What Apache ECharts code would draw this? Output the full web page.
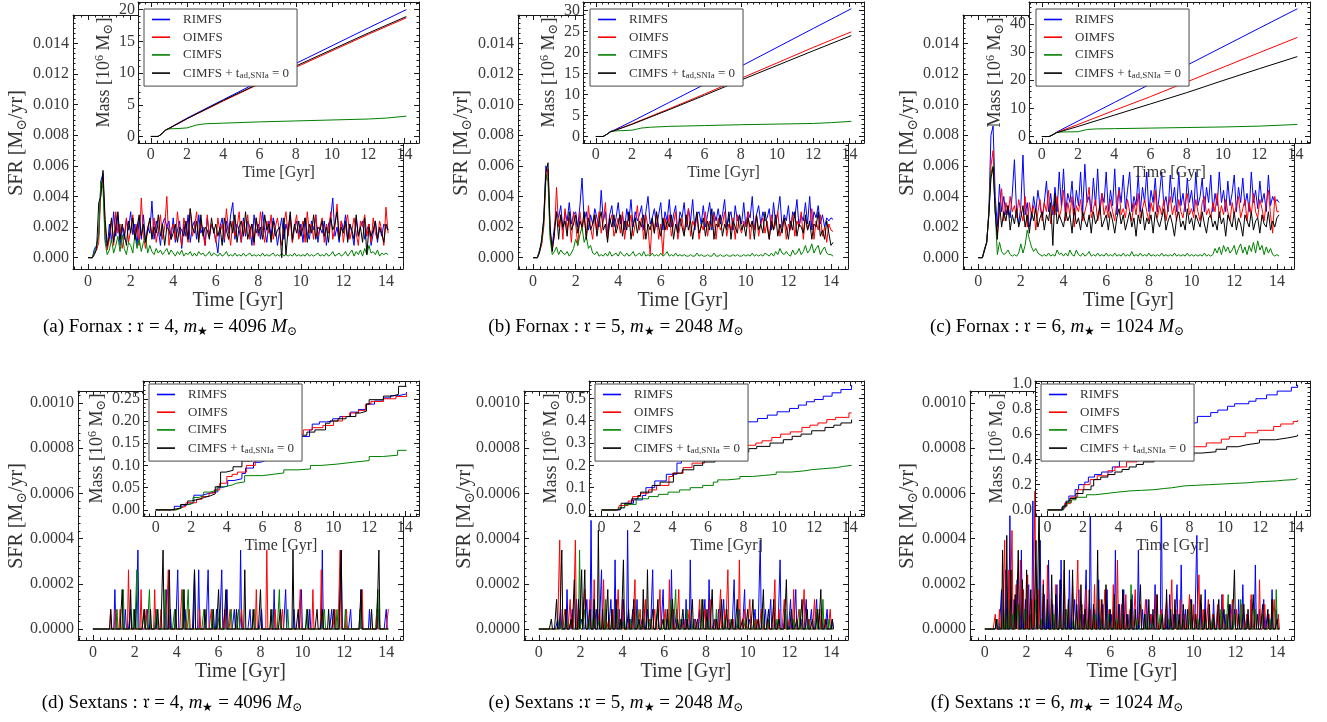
<!DOCTYPE html>
<html><head><meta charset="utf-8">
<script src="https://cdn.jsdelivr.net/npm/echarts@6/dist/echarts.min.js"></script>
<style>html,body{margin:0;padding:0;background:#fff}#c{width:1327px;height:722px}</style>
</head><body><div id="c"></div>
<script>
// ---------------- DATA ----------------
const seriesNames = ['RIMFS', 'OIMFS', 'CIMFS', 'CIMFS + t_ad,SNIa = 0'];
const captions = [
  ['(a) Fornax : 𝔯 = 4, ', 'm', '★', ' = 4096 ', 'M', '⊙'],
  ['(b) Fornax : 𝔯 = 5, ', 'm', '★', ' = 2048 ', 'M', '⊙'],
  ['(c) Fornax : 𝔯 = 6, ', 'm', '★', ' = 1024 ', 'M', '⊙'],
  ['(d) Sextans : 𝔯 = 4, ', 'm', '★', ' = 4096 ', 'M', '⊙'],
  ['(e) Sextans :𝔯 = 5, ', 'm', '★', ' = 2048 ', 'M', '⊙'],
  ['(f) Sextans :𝔯 = 6, ', 'm', '★', ' = 1024 ', 'M', '⊙']
];
const timeTicks = [0, 2, 4, 6, 8, 10, 12, 14];

// Fornax SFR, sampled every 0.1 Gyr from 0 to 14.1 Gyr, in units of 1e-4 Msun/yr
const sfrA_RIMFS = [0,0,0,6,8,15,50,55,12,6, 22,10,30,14,28,8,20,12,25,18, 30,15,22,8,26,12,28,10,20,16, 37,12,24,18,8,22,26,20,24,12, 26,10,18,24,6,22,14,28,10,20, 24,12,28,16,20,8,26,14,22,18, 12,3,20,26,10,24,16,28,36,12, 22,18,10,26,14,24,20,8,28,16, 22,12,30,18,10,24,14,26,20,8, 18,26,12,22,16,28,10,20,24,14, 22,10,26,16,12,24,18,28,10,20, 16,24,8,22,26,39,14,20,10,24, 18,28,12,22,16,8,26,14,20,24, 12,18,22,8,16,24,10,20,14,22, 20,18];
const sfrA_OIMFS = [0,0,0,3,5,10,45,52,20,5, 12,25,8,30,16,22,6,14,26,10, 18,28,12,22,8,39,14,6,20,24, 14,26,10,18,28,12,20,40,8,18, 22,12,30,16,8,26,18,10,32,14, 20,30,12,24,16,8,28,14,22,18, 10,26,16,22,12,32,18,8,24,14, 20,30,10,24,16,28,12,22,8,26, 14,30,18,10,24,16,28,12,20,26, 16,8,22,30,14,26,10,20,28,12, 18,24,10,30,16,22,12,28,14,20, 26,10,22,16,30,12,20,35,14,24, 10,22,28,12,18,26,16,8,24,20, 28,14,22,10,26,16,12,24,18,8, 33,16];
const sfrA_CIMFS = [0,0,0,4,8,15,50,45,10,2, 5,12,3,8,14,4,15,6,2,10, 8,3,15,6,12,4,10,14,3,8, 4,2,6,3,5,2,4,6,2,5, 3,1,4,2,5,1,3,2,4,1, 3,1,4,2,3,1,2,4,1,3, 2,1,3,1,2,4,1,2,1,3, 1,2,1,3,1,2,3,1,2,1, 2,1,3,1,2,1,2,3,1,2, 1,3,1,2,1,2,1,3,1,2, 1,2,1,3,1,2,1,2,3,1, 2,1,3,1,2,4,1,2,3,1, 2,4,1,3,5,1,4,2,5,1, 6,2,8,3,4,2,5,1,3,2, 3,2];
const sfrA_TAD = [0,0,0,2,6,36,40,57,25,8, 14,26,10,20,30,12,22,16,8,24, 16,26,12,20,28,14,22,10,18,26, 12,20,16,28,14,22,8,20,18,12, 16,22,10,20,18,14,24,12,32,20, 16,24,10,28,14,20,18,12,26,16, 22,14,20,8,26,18,12,24,16,28, 10,20,24,14,30,12,18,22,10,26, 16,20,12,28,18,22,10,24,14,18, 20,0,26,2,18,30,12,22,16,24, 14,20,26,10,22,16,28,12,20,18, 24,14,20,10,26,18,22,30,12,20, 16,24,10,22,18,12,28,14,20,10, 26,2,20,14,18,24,12,20,16,10, 22,18];

const sfrB_RIMFS = [0,0,0,5,10,25,60,55,15,8, 20,30,26,34,18,30,24,36,22,28, 30,20,34,52,24,30,18,28,22,32, 26,20,44,24,30,16,28,34,20,26, 36,22,28,18,32,24,38,20,30,24, 28,34,18,30,40,22,26,32,20,28, 36,18,30,24,38,20,28,34,16,30, 26,36,20,32,24,38,18,28,30,22, 34,20,28,36,18,30,24,32,22,28, 38,20,26,30,18,34,24,28,22,36, 20,30,26,40,18,28,34,22,30,24, 26,32,18,36,22,30,40,20,28,24, 34,18,30,26,38,20,28,24,36,22, 40,18,30,26,34,22,28,20,26,24, 26,25];
const sfrB_OIMFS = [0,0,0,4,8,20,50,58,18,6, 14,46,20,28,12,32,18,26,10,30, 22,8,30,18,26,14,34,20,12,28, 18,30,16,24,36,12,22,28,14,20, 26,16,30,12,24,20,28,14,22,34, 18,26,12,28,20,2,24,16,30,12, 22,2,26,18,28,14,22,30,12,20, 26,16,22,32,14,24,20,28,12,22, 18,30,14,24,20,28,12,26,18,22, 30,14,22,18,26,12,28,20,16,24, 20,30,12,24,18,28,14,22,26,16, 24,12,28,18,22,30,14,20,26,12, 22,18,28,14,24,20,30,12,26,18, 22,32,12,24,18,28,14,20,10,22, 18,17];
const sfrB_CIMFS = [0,0,0,4,10,22,55,50,12,2, 4,7,2,5,3,2,4,1,3,6, 12,8,15,20,10,14,6,8,3,2, 4,1,2,1,3,1,4,1,2,3, 1,4,2,1,3,1,2,4,1,2, 3,1,4,1,2,1,3,1,2,1, 3,1,2,4,1,2,1,3,1,2, 1,2,1,1,2,1,1,3,1,2, 1,1,2,1,1,3,1,1,2,1, 1,2,1,1,2,1,2,1,1,2, 1,2,1,3,1,2,1,2,1,3, 2,1,3,1,4,2,6,3,2,4, 2,1,5,2,3,6,2,4,8,3, 5,9,3,6,8,2,5,7,3,2, 2,1];
const sfrB_TAD = [0,0,0,3,12,25,55,62,20,4, 16,30,12,28,20,24,14,30,18,22, 28,16,24,20,30,12,26,18,22,28, 14,24,30,18,22,10,26,20,28,16, 22,28,14,24,18,30,12,22,26,16, 24,20,28,12,22,18,26,16,30,20, 14,26,18,24,20,28,12,22,16,26, 20,14,28,18,24,12,22,30,16,20, 26,14,24,18,32,12,22,20,28,14, 22,18,30,12,24,20,16,28,18,22, 14,26,20,24,12,28,18,22,16,30, 20,12,24,18,28,14,22,16,26,20, 12,24,18,30,14,22,20,16,28,18, 24,12,22,20,30,14,18,12,24,16, 8,10];

const sfrC_RIMFS = [0,0,0,6,10,30,80,86,40,20, 48,30,40,28,34,26,42,64,30,22, 34,67,28,36,20,26,40,30,44,34, 26,36,50,30,42,28,46,30,56,34, 58,30,42,36,50,28,44,34,56,30, 61,36,40,30,52,34,58,30,42,36, 56,30,44,34,58,28,46,36,54,32, 44,56,30,40,34,54,30,46,36,56, 30,44,36,52,30,42,56,34,40,30, 54,36,46,30,56,34,42,30,52,36, 44,30,56,34,40,52,30,46,36,54, 30,42,34,56,36,44,30,50,34,42, 54,30,46,36,52,34,42,30,56,36, 44,32,50,36,42,30,54,34,40,36, 38,36];
const sfrC_OIMFS = [0,0,0,5,10,28,60,70,30,15, 30,45,24,36,28,40,30,34,26,38, 30,24,40,20,36,28,34,18,30,38, 24,36,30,44,22,34,28,40,26,32, 44,24,36,28,40,20,34,30,38,24, 30,36,46,26,32,38,24,30,42,28, 34,26,38,30,24,36,44,28,32,26, 38,30,24,36,28,42,26,32,38,30, 24,36,30,44,26,34,28,38,24,32, 40,28,34,24,38,30,26,36,42,28, 32,26,38,30,24,36,40,28,32,26, 36,30,42,26,34,28,38,30,24,36, 28,34,40,26,32,38,24,36,28,42, 30,26,38,32,24,36,44,28,16,40, 30,30];
const sfrC_CIMFS = [0,0,0,5,10,28,55,60,30,2, 10,4,2,3,5,2,1,2,1,3, 9,3,8,18,12,7,4,6,3,2, 1,2,1,3,1,2,1,5,2,3, 1,3,1,5,2,1,5,2,1,3, 1,2,4,1,2,1,3,1,2,1, 3,1,2,1,3,1,2,1,3,1, 2,1,4,1,2,1,3,1,2,1, 3,1,2,1,2,1,3,1,2,1, 2,1,3,1,2,1,2,1,3,1, 2,1,2,1,2,1,3,1,2,1, 2,6,3,7,2,8,4,7,3,5, 8,2,6,9,3,7,2,8,4,10, 3,11,5,8,2,7,3,6,2,1, 2,1];
const sfrC_TAD = [0,0,0,5,10,28,52,59,30,12, 36,20,30,24,34,18,28,22,32,20, 26,34,20,28,16,30,24,32,20,26, 30,18,28,24,36,8,42,22,28,24, 20,30,24,28,16,32,22,26,18,30, 24,20,28,16,30,22,26,34,20,24, 28,18,30,24,16,26,32,22,28,18, 24,30,20,26,14,28,22,32,18,26, 22,28,16,30,24,20,26,32,18,24, 28,22,14,26,30,20,24,18,32,22, 26,18,28,24,20,30,22,16,26,28, 20,24,18,30,22,26,14,28,24,20, 30,18,26,22,14,28,24,20,30,18, 24,26,16,28,22,20,30,18,24,20, 26,28];

// Fornax stellar mass [1e6 Msun]: [time Gyr, mass]
const massA_RIMFS = [[0,0],[0.4,0],[0.6,0.4],[0.8,1.0],[1,1.3],[2,2.9],[4,5.8],[6,8.7],[8,11.5],[10,14.3],[12,17.1],[14.1,20.0]];
const massA_OIMFS = [[0,0],[0.4,0],[0.6,0.4],[0.8,1.0],[1,1.25],[2,2.8],[4,5.6],[6,8.3],[8,10.9],[10,13.5],[12,16.1],[14.1,18.7]];
const massA_CIMFS = [[0,0],[0.4,0],[0.6,0.4],[0.8,1.0],[1,1.2],[1.5,1.25],[2,1.35],[2.5,1.8],[3,2.0],[4,2.1],[6,2.3],[8,2.45],[10,2.6],[12,2.75],[13,2.9],[14.1,3.2]];
const massA_TAD = [[0,0],[0.4,0],[0.6,0.4],[0.8,1.0],[1,1.25],[2,2.8],[4,5.7],[6,8.4],[8,11.1],[10,13.7],[12,16.3],[14.1,18.9]];
const massB_RIMFS = [[0,0],[0.4,0],[0.6,0.5],[0.8,1.2],[1,1.5],[2,3.6],[4,8.0],[6,12.4],[8,16.7],[10,21.2],[12,25.7],[14.1,30.4]];
const massB_OIMFS = [[0,0],[0.4,0],[0.6,0.5],[0.8,1.1],[1,1.4],[2,3.0],[4,6.5],[6,10.1],[8,13.8],[10,17.5],[12,21.2],[14.1,24.9]];
const massB_CIMFS = [[0,0],[0.4,0],[0.6,0.5],[0.8,1.1],[1,1.3],[2,1.5],[2.5,2.0],[3,2.2],[4,2.4],[6,2.6],[8,2.8],[10,2.95],[12,3.1],[13,3.3],[14.1,3.6]];
const massB_TAD = [[0,0],[0.4,0],[0.6,0.5],[0.8,1.1],[1,1.35],[2,2.9],[4,6.3],[6,9.8],[8,13.4],[10,16.9],[12,20.4],[14.1,24.0]];
const massC_RIMFS = [[0,0],[0.4,0],[0.6,0.6],[0.8,1.5],[1,2.2],[2,5.5],[4,12.1],[6,18.7],[8,25.3],[10,31.9],[12,38.5],[14.1,45.4]];
const massC_OIMFS = [[0,0],[0.4,0],[0.6,0.6],[0.8,1.4],[1,1.9],[2,4.3],[4,9.3],[6,14.2],[8,19.4],[10,24.6],[12,29.8],[14.1,35.2]];
const massC_CIMFS = [[0,0],[0.4,0],[0.6,0.6],[0.8,1.4],[1,1.6],[2,1.7],[2.5,2.5],[3,2.7],[4,2.8],[6,3.0],[8,3.2],[10,3.4],[12,3.7],[14.1,4.3]];
const massC_TAD = [[0,0],[0.4,0],[0.6,0.6],[0.8,1.3],[1,1.7],[2,3.6],[4,7.6],[6,11.6],[8,15.6],[10,19.9],[12,24.1],[14.1,28.4]];

// Sextans SFR: star-formation events [time Gyr, number of star particles in the 0.05 Gyr bin]
const sfrQuantumD = 8.73e-5, sfrQuantumE = 4.37e-5, sfrQuantumF = 2.18e-5; // Msun/yr per particle
const spkD_RIMFS = [[1.05,2],[1.55,1],[1.8,1],[2.15,4],[2.6,1],[3.0,1],[3.5,2],[3.7,1],[4.05,3],[4.4,1],[4.85,3],[5.05,3],[5.5,3],[5.9,1],[6.15,3],[6.4,2],[6.75,1],[7.05,4],[7.5,1],[8.05,1],[8.65,2],[9.2,2],[9.6,1],[9.95,2],[10.35,1],[10.95,4],[11.4,1],[11.85,4],[12.3,1],[12.8,2],[13.2,1],[13.65,1],[14.0,1]];
const spkD_OIMFS = [[0.85,1],[1.1,1],[1.3,1],[1.7,3],[2.3,2],[2.55,1],[2.95,2],[3.25,1],[3.6,3],[4.25,2],[4.6,1],[5.1,1],[5.65,1],[6.3,1],[6.55,1],[7.1,1],[7.8,2],[8.3,4],[8.7,1],[9.05,1],[9.9,2],[10.5,2],[10.9,3],[11.55,1],[11.8,4],[12.1,1],[12.85,2],[13.55,1],[14.1,1]];
const spkD_CIMFS = [[1.15,1],[1.45,2],[1.95,1],[2.1,3],[2.45,1],[2.7,2],[3.05,1],[3.45,2],[3.9,1],[4.3,2],[4.55,2],[5.3,1],[5.7,1],[6.05,1],[6.6,1],[6.95,1],[7.7,1],[8.55,1],[8.9,2],[9.3,1],[10.2,1],[11.05,1],[11.65,1],[12.05,1],[12.75,1],[13.6,2]];
const spkD_TAD = [[0.85,1],[1.4,2],[1.8,2],[2.0,1],[2.45,1],[2.75,1],[3.1,1],[3.35,4],[3.65,3],[3.95,1],[4.35,2],[4.85,3],[5.35,1],[5.75,1],[6.0,2],[6.35,2],[6.85,1],[7.25,3],[7.65,1],[8.0,2],[8.5,1],[8.95,1],[9.55,4],[9.8,1],[10.25,1],[10.7,1],[10.95,1],[11.25,1],[11.5,1],[11.85,4],[12.8,2],[13.3,1],[13.65,4]];
const spkE_RIMFS = [[0.9,1],[1.05,2],[1.35,4],[1.6,2],[1.8,3],[2.05,1],[2.3,3],[2.5,11],[2.75,2],[3.0,6],[3.2,2],[3.45,3],[3.65,7],[3.85,2],[4.05,3],[4.25,10],[4.5,2],[4.7,3],[4.95,1],[5.2,2],[5.45,6],[5.7,2],[5.95,4],[6.15,1],[6.35,6],[6.6,2],[6.85,1],[7.05,3],[7.25,7],[7.5,1],[7.7,2],[7.95,3],[8.15,5],[8.4,1],[8.6,2],[8.85,3],[9.1,1],[9.35,5],[9.6,2],[9.85,4],[10.1,1],[10.35,2],[10.6,9],[10.85,2],[11.1,3],[11.3,1],[11.55,7],[11.8,2],[12.05,3],[12.3,4],[12.55,1],[12.8,3],[13.05,2],[13.3,3],[13.55,1],[13.8,2],[14.05,1]];
const spkE_OIMFS = [[1.0,9],[1.25,2],[1.5,3],[1.75,9],[1.95,2],[2.2,4],[2.45,3],[2.65,5],[2.9,2],[3.1,5],[3.35,1],[3.55,2],[3.8,4],[4.0,3],[4.35,1],[4.6,5],[4.85,2],[5.1,3],[5.3,1],[5.55,2],[5.8,4],[6.05,2],[6.25,5],[6.45,2],[6.7,4],[6.95,1],[7.2,2],[7.45,1],[7.7,3],[7.95,2],[8.2,3],[8.45,1],[8.7,4],[8.9,2],[9.05,6],[9.3,1],[9.6,7],[9.85,2],[10.1,3],[10.4,1],[10.65,2],[10.95,1],[11.3,5],[11.5,2],[11.75,3],[12.0,1],[12.2,4],[12.45,2],[12.7,4],[12.95,1],[13.2,3],[13.45,2],[13.7,1],[13.95,2]];
const spkE_CIMFS = [[1.0,1],[1.3,2],[1.55,1],[1.95,8],[2.2,2],[2.4,1],[2.65,2],[2.9,1],[3.2,3],[3.5,1],[3.75,2],[4.1,1],[4.4,1],[4.75,2],[5.0,1],[5.35,1],[5.7,2],[6.0,1],[6.3,3],[6.55,4],[6.8,1],[7.1,2],[7.4,1],[7.8,3],[8.1,1],[8.5,2],[8.9,1],[9.2,1],[9.55,2],[9.9,1],[10.3,1],[10.7,2],[11.0,1],[11.4,1],[11.8,2],[12.2,1],[12.5,2],[12.9,1],[13.3,2],[13.6,3],[13.9,1]];
const spkE_TAD = [[0.6,1],[0.85,3],[1.1,8],[1.3,2],[1.55,1],[1.7,5],[1.9,3],[2.05,6],[2.2,6],[2.45,2],[2.65,3],[2.85,10],[3.05,2],[3.3,4],[3.5,2],[3.7,3],[3.9,1],[4.05,7],[4.3,2],[4.55,3],[4.8,1],[5.0,4],[5.2,6],[5.45,2],[5.7,3],[5.95,1],[6.15,2],[6.4,3],[6.65,1],[6.9,2],[7.1,1],[7.35,3],[7.6,1],[7.85,3],[8.05,2],[8.3,4],[8.5,1],[8.75,3],[9.0,2],[9.25,1],[9.5,3],[9.75,1],[10.0,2],[10.25,3],[10.5,1],[10.75,4],[11.0,2],[11.25,3],[11.5,1],[11.85,5],[12.1,2],[12.35,1],[12.6,3],[12.85,2],[13.1,1],[13.35,2],[13.5,4],[13.75,1],[14.05,1]];
const spkF_RIMFS = [[0.55,2],[0.8,8],[1.0,12],[1.2,23],[1.4,6],[1.55,10],[1.75,16],[1.95,6],[2.1,9],[2.3,26],[2.5,4],[2.65,18],[2.85,7],[3.05,14],[3.25,5],[3.45,9],[3.65,14],[3.85,4],[4.05,12],[4.3,6],[4.5,8],[4.7,3],[4.85,12],[5.05,27],[5.25,4],[5.45,10],[5.65,5],[5.85,8],[6.05,3],[6.25,16],[6.45,5],[6.65,8],[6.85,3],[7.05,7],[7.35,16],[7.55,4],[7.75,6],[7.95,3],[8.15,9],[8.45,28],[8.65,4],[8.85,7],[9.05,3],[9.2,9],[9.4,13],[9.6,4],[9.85,6],[10.0,3],[10.15,19],[10.35,5],[10.55,8],[10.75,3],[10.95,6],[11.15,4],[11.35,7],[11.55,3],[11.75,5],[11.95,4],[12.15,6],[12.35,9],[12.55,3],[12.75,6],[12.95,13],[13.15,4],[13.35,6],[13.55,3],[13.75,8],[13.95,4]];
const spkF_OIMFS = [[0.5,3],[0.7,4],[0.95,18],[1.15,12],[1.3,20],[1.5,9],[1.7,14],[1.85,8],[2.05,11],[2.25,6],[2.4,28],[2.6,8],[2.8,10],[3.0,13],[3.2,6],[3.4,9],[3.6,7],[3.8,12],[4.0,5],[4.2,9],[4.45,14],[4.65,5],[4.85,8],[5.05,4],[5.25,9],[5.5,6],[5.75,8],[5.95,4],[6.15,9],[6.35,14],[6.55,5],[6.75,7],[6.95,4],[7.2,8],[7.45,5],[7.7,6],[7.95,3],[8.2,7],[8.45,4],[8.7,6],[8.95,10],[9.15,4],[9.35,6],[9.55,3],[9.8,7],[10.0,5],[10.25,11],[10.45,4],[10.7,6],[10.9,3],[11.15,5],[11.4,7],[11.6,3],[11.85,6],[12.05,4],[12.3,5],[12.55,3],[12.75,7],[12.95,4],[13.15,10],[13.4,5],[13.6,3],[13.85,6],[14.05,3]];
const spkF_CIMFS = [[0.6,2],[0.9,4],[1.1,6],[1.35,3],[1.6,5],[1.9,4],[2.2,3],[2.45,6],[2.7,2],[3.0,4],[3.3,3],[3.6,2],[3.9,4],[4.25,2],[4.6,3],[4.95,2],[5.3,3],[5.6,2],[5.95,3],[6.3,2],[6.6,3],[7.0,9],[7.3,2],[7.7,3],[8.05,2],[8.4,3],[8.8,2],[9.15,3],[9.5,2],[9.85,5],[10.2,2],[10.55,3],[10.9,2],[11.3,4],[11.65,7],[11.95,3],[12.25,6],[12.6,2],[12.95,4],[13.3,3],[13.65,2],[13.95,8]];
const spkF_TAD = [[0.55,2],[0.85,16],[1.05,19],[1.25,12],[1.45,7],[1.6,16],[1.8,10],[2.0,12],[2.2,8],[2.45,18],[2.6,27],[2.8,9],[3.0,6],[3.2,11],[3.4,7],[3.6,10],[3.8,14],[4.0,6],[4.2,12],[4.4,5],[4.6,9],[4.8,4],[5.0,8],[5.2,5],[5.4,16],[5.6,6],[5.8,9],[6.0,4],[6.2,7],[6.4,5],[6.6,8],[6.8,3],[7.0,6],[7.2,4],[7.45,9],[7.65,3],[7.85,6],[8.05,4],[8.25,7],[8.5,3],[8.7,8],[8.9,4],[9.1,6],[9.3,3],[9.5,5],[9.7,4],[9.9,6],[10.1,3],[10.35,7],[10.55,4],[10.75,5],[10.95,3],[11.2,6],[11.45,4],[11.7,5],[11.95,12],[12.15,3],[12.4,5],[12.6,4],[12.85,7],[13.05,3],[13.3,5],[13.55,4],[13.75,6],[14.0,2]];

// Sextans stellar mass [1e6 Msun]: [time Gyr, mass] (staircase)
const massD_RIMFS = [[0,0],[0.9,0],[1.05,0.008],[1.5,0.012],[1.8,0.016],[2.15,0.033],[2.6,0.037],[3.0,0.041],[3.5,0.05],[3.7,0.054],[4.05,0.066],[4.4,0.07],[4.85,0.082],[5.05,0.094],[5.5,0.107],[5.9,0.111],[6.15,0.123],[6.4,0.131],[6.75,0.135],[7.05,0.152],[7.5,0.156],[8.05,0.165],[8.65,0.18],[8.8,0.193],[9.2,0.198],[9.6,0.2],[9.95,0.205],[10.35,0.21],[10.95,0.22],[11.4,0.226],[11.85,0.238],[12.3,0.245],[12.8,0.252],[13.2,0.257],[13.65,0.261],[14.1,0.265]];
const massD_OIMFS = [[0,0],[0.9,0],[1.1,0.004],[1.4,0.008],[1.7,0.016],[2.3,0.024],[2.6,0.03],[3.0,0.038],[3.3,0.045],[3.6,0.06],[4.0,0.075],[4.3,0.08],[4.6,0.085],[5.1,0.1],[5.6,0.115],[6.1,0.125],[6.6,0.14],[7.1,0.155],[7.8,0.17],[8.3,0.18],[8.8,0.185],[9.4,0.19],[10.0,0.2],[10.5,0.21],[10.9,0.218],[11.4,0.224],[11.8,0.238],[12.1,0.244],[12.8,0.25],[13.5,0.255],[14.1,0.262]];
const massD_CIMFS = [[0,0],[0.9,0],[1.15,0.004],[1.45,0.012],[1.95,0.016],[2.1,0.028],[2.45,0.032],[2.7,0.04],[3.05,0.044],[3.45,0.052],[3.9,0.056],[4.3,0.06],[4.55,0.063],[5.0,0.077],[6.0,0.08],[6.6,0.083],[7.2,0.09],[8.0,0.092],[8.7,0.1],[9.3,0.103],[10.2,0.107],[11.05,0.111],[12.0,0.12],[12.75,0.123],[13.6,0.134],[14.1,0.135]];
const massD_TAD = [[0,0],[0.85,0],[0.9,0.004],[1.4,0.012],[1.8,0.02],[2.0,0.024],[2.45,0.028],[2.75,0.032],[3.1,0.036],[3.35,0.052],[3.65,0.085],[3.95,0.089],[4.35,0.097],[4.85,0.11],[5.35,0.114],[5.75,0.118],[6.0,0.126],[6.35,0.134],[6.85,0.138],[7.25,0.15],[7.65,0.155],[8.0,0.168],[8.5,0.175],[8.95,0.18],[9.55,0.195],[9.8,0.2],[10.25,0.205],[10.7,0.21],[11.25,0.218],[11.5,0.222],[11.85,0.238],[12.0,0.248],[12.8,0.256],[13.3,0.26],[13.65,0.278],[14.1,0.278]];
const massE_RIMFS = [[0,0],[0.9,0],[1.05,0.01],[1.3,0.03],[1.8,0.045],[2.3,0.065],[2.5,0.1],[3.0,0.13],[3.65,0.16],[4.25,0.21],[4.5,0.24],[5.0,0.28],[5.5,0.32],[6.0,0.35],[6.5,0.365],[7.25,0.38],[8.2,0.395],[8.8,0.41],[9.35,0.425],[9.9,0.44],[10.6,0.455],[11.1,0.47],[11.55,0.485],[12.0,0.495],[12.5,0.51],[13.0,0.525],[13.5,0.54],[14.1,0.56]];
const massE_OIMFS = [[0,0],[0.9,0],[1.0,0.02],[1.5,0.04],[1.75,0.06],[2.2,0.075],[2.65,0.09],[3.1,0.11],[3.8,0.15],[4.0,0.165],[4.6,0.19],[5.1,0.21],[5.8,0.235],[6.25,0.25],[6.7,0.26],[7.7,0.275],[8.2,0.29],[8.7,0.3],[9.05,0.31],[9.6,0.325],[10.1,0.34],[10.65,0.35],[11.3,0.37],[11.75,0.38],[12.2,0.39],[12.7,0.405],[13.2,0.415],[13.95,0.435],[14.1,0.437]];
const massE_CIMFS = [[0,0],[0.9,0],[1.0,0.01],[1.3,0.025],[1.95,0.05],[2.65,0.06],[3.2,0.07],[3.75,0.08],[4.4,0.09],[5.0,0.1],[5.7,0.11],[6.3,0.125],[6.55,0.135],[7.1,0.14],[7.8,0.15],[8.5,0.155],[9.2,0.16],[9.85,0.17],[10.7,0.175],[11.4,0.18],[11.8,0.185],[12.5,0.19],[13.3,0.195],[13.6,0.2],[14.1,0.2]];
const massE_TAD = [[0,0],[0.6,0],[0.85,0.005],[1.1,0.03],[1.7,0.05],[2.05,0.065],[2.2,0.08],[2.85,0.11],[3.3,0.125],[4.05,0.165],[4.55,0.18],[5.2,0.2],[5.7,0.215],[6.4,0.23],[7.35,0.245],[7.85,0.26],[8.3,0.275],[8.75,0.285],[9.5,0.3],[10.25,0.315],[10.75,0.33],[11.25,0.34],[11.85,0.355],[12.6,0.37],[13.1,0.38],[13.5,0.39],[14.1,0.405]];
const massF_RIMFS = [[0,0],[0.55,0],[0.8,0.02],[1.0,0.06],[1.2,0.11],[1.55,0.16],[1.75,0.2],[2.1,0.22],[2.3,0.26],[2.65,0.28],[3.05,0.3],[3.65,0.34],[4.05,0.4],[4.5,0.45],[5.05,0.53],[5.45,0.57],[6.25,0.63],[7.35,0.68],[7.75,0.69],[8.45,0.74],[9.2,0.77],[9.6,0.79],[10.15,0.82],[10.55,0.84],[11.35,0.86],[11.75,0.88],[12.35,0.91],[12.95,0.94],[13.75,0.97],[14.1,0.99]];
const massF_OIMFS = [[0,0],[0.5,0],[0.7,0.01],[0.95,0.05],[1.3,0.1],[1.7,0.16],[2.05,0.2],[2.4,0.24],[2.8,0.27],[3.4,0.31],[3.8,0.34],[4.45,0.38],[5.05,0.41],[5.75,0.44],[6.35,0.46],[7.2,0.48],[7.95,0.5],[8.95,0.53],[9.8,0.56],[10.25,0.58],[11.15,0.61],[11.85,0.63],[12.75,0.66],[13.15,0.68],[13.85,0.7],[14.1,0.71]];
const massF_CIMFS = [[0,0],[0.6,0],[0.9,0.03],[1.1,0.06],[1.35,0.08],[1.6,0.1],[2.2,0.12],[2.7,0.13],[3.3,0.14],[3.9,0.15],[4.6,0.155],[5.3,0.16],[6.0,0.17],[6.6,0.175],[7.0,0.19],[7.7,0.195],[8.4,0.2],[9.15,0.205],[9.85,0.21],[10.55,0.215],[11.3,0.22],[11.65,0.225],[12.25,0.23],[12.95,0.235],[13.3,0.24],[13.95,0.25],[14.1,0.255]];
const massF_TAD = [[0,0],[0.55,0],[0.85,0.03],[1.05,0.07],[1.25,0.09],[1.6,0.13],[2.0,0.16],[2.45,0.19],[2.6,0.24],[3.0,0.26],[3.4,0.28],[3.8,0.3],[4.2,0.32],[4.6,0.34],[5.0,0.36],[5.4,0.38],[6.0,0.4],[6.6,0.415],[7.45,0.43],[8.25,0.45],[8.7,0.46],[9.5,0.48],[10.1,0.5],[10.75,0.515],[11.2,0.53],[11.95,0.555],[12.85,0.57],[13.55,0.585],[14.1,0.595]];

// ---------------- BUILD ----------------
const FONT = '"Liberation Serif","DejaVu Serif",serif';
const AXC = '#1a1a1a';
const LBLC = '#3a3a3a';
const COLORS = ['#0000ff', '#ff0000', '#008000', '#000000'];

function steps(a, b, s) { const r = []; for (let v = a; v <= b + s * 1e-6; v += s) r.push(+v.toFixed(8)); return r; }
const fornaxTime = steps(0, 14.1, 0.1);
const sextansTime = steps(0, 14.1, 0.05);
function fornaxSeries(arr) { return arr.map((v, i) => [fornaxTime[i], v * 1e-4]); }
function sextansSeries(spk, q) {
  const n = sextansTime.map(() => 0);
  spk.forEach(([t, c]) => { n[Math.round(t / 0.05)] += c; });
  return sextansTime.map((t, k) => [t, n[k] * q]);
}

const topSfrAxis = { min: -0.00074, max: 0.01585, major: steps(0, 0.014, 0.002), minor: steps(0, 0.0157, 0.002 / 6), dec: 3 };
const botSfrAxis = { min: -0.0000486, max: 0.001053, major: steps(0, 0.001, 0.0002), minor: steps(-0.0002 / 6, 0.00104, 0.0002 / 6), dec: 4 };

const panels = [
  { main: { left: 73, top: 15, width: 330, height: 254 }, inset: { left: 138, top: 2, width: 281, height: 141 }, leg: { left: 144, top: 9 }, cap: [170, 327], sfrLbl: [17, 143],
    sfr: [fornaxSeries(sfrA_RIMFS), fornaxSeries(sfrA_OIMFS), fornaxSeries(sfrA_CIMFS), fornaxSeries(sfrA_TAD)],
    mass: [massA_RIMFS, massA_OIMFS, massA_CIMFS, massA_TAD], step: false, my: topSfrAxis,
    iy: { min: -1.03, max: 21.2, major: steps(0, 20, 5), minor: steps(-1, 21, 1), dec: 0, gap: 21 } },
  { main: { left: 518, top: 15, width: 330, height: 254 }, inset: { left: 583, top: 2, width: 281, height: 141 }, leg: { left: 590, top: 9 }, cap: [616, 327], sfrLbl: [462, 143],
    sfr: [fornaxSeries(sfrB_RIMFS), fornaxSeries(sfrB_OIMFS), fornaxSeries(sfrB_CIMFS), fornaxSeries(sfrB_TAD)],
    mass: [massB_RIMFS, massB_OIMFS, massB_CIMFS, massB_TAD], step: false, my: topSfrAxis,
    iy: { min: -1.55, max: 32.0, major: steps(0, 30, 5), minor: steps(-1, 32, 1), dec: 0, gap: 21 } },
  { main: { left: 963, top: 15, width: 331, height: 254 }, inset: { left: 1029, top: 2, width: 281, height: 141 }, leg: { left: 1036, top: 9 }, cap: [1057, 327], sfrLbl: [908, 143],
    sfr: [fornaxSeries(sfrC_RIMFS), fornaxSeries(sfrC_OIMFS), fornaxSeries(sfrC_CIMFS), fornaxSeries(sfrC_TAD)],
    mass: [massC_RIMFS, massC_OIMFS, massC_CIMFS, massC_TAD], step: false, my: topSfrAxis,
    iy: { min: -2.3, max: 47.8, major: steps(0, 40, 10), minor: steps(-2, 46, 2), dec: 0, gap: 21 } },
  { main: { left: 78, top: 391, width: 325, height: 249 }, inset: { left: 143, top: 381, width: 276, height: 135 }, leg: { left: 149, top: 384 }, cap: [172, 703], sfrLbl: [17, 516],
    sfr: [sextansSeries(spkD_RIMFS, sfrQuantumD), sextansSeries(spkD_OIMFS, sfrQuantumD), sextansSeries(spkD_CIMFS, sfrQuantumD), sextansSeries(spkD_TAD, sfrQuantumD)],
    mass: [massD_RIMFS, massD_OIMFS, massD_CIMFS, massD_TAD], step: true, my: botSfrAxis,
    iy: { min: -0.0138, max: 0.29, major: steps(0, 0.25, 0.05), minor: steps(-0.01, 0.28, 0.01), dec: 2, gap: 33 } },
  { main: { left: 524, top: 391, width: 324, height: 249 }, inset: { left: 589, top: 381, width: 275, height: 135 }, leg: { left: 595, top: 384 }, cap: [616, 703], sfrLbl: [465, 516],
    sfr: [sextansSeries(spkE_RIMFS, sfrQuantumE), sextansSeries(spkE_OIMFS, sfrQuantumE), sextansSeries(spkE_CIMFS, sfrQuantumE), sextansSeries(spkE_TAD, sfrQuantumE)],
    mass: [massE_RIMFS, massE_OIMFS, massE_CIMFS, massE_TAD], step: true, my: botSfrAxis,
    iy: { min: -0.027, max: 0.578, major: steps(0, 0.5, 0.1), minor: steps(-0.02, 0.56, 0.02), dec: 1, gap: 27 } },
  { main: { left: 970, top: 391, width: 324, height: 249 }, inset: { left: 1035, top: 381, width: 275, height: 135 }, leg: { left: 1041, top: 384 }, cap: [1057, 703], sfrLbl: [908, 516],
    sfr: [sextansSeries(spkF_RIMFS, sfrQuantumF), sextansSeries(spkF_OIMFS, sfrQuantumF), sextansSeries(spkF_CIMFS, sfrQuantumF), sextansSeries(spkF_TAD, sfrQuantumF)],
    mass: [massF_RIMFS, massF_OIMFS, massF_CIMFS, massF_TAD], step: true, my: botSfrAxis,
    iy: { min: -0.048, max: 1.02, major: steps(0, 1.0, 0.2), minor: steps(0, 1.0, 0.2 / 6), dec: 1, gap: 27 } }
];

const grids = [], xAxes = [], yAxes = [], series = [], legends = [], graphics = [];

function addAxisSet(list, gi, dir, o) {
  const pos = dir === 'x' ? ['bottom', 'top'] : ['left', 'right'];
  const base = { type: 'value', gridIndex: gi, min: o.min, max: o.max, z: o.z, splitLine: { show: false }, silent: true };
  const first = list.length;
  list.push(Object.assign({}, base, {
    position: pos[0],
    axisLine: { show: true, onZero: false, lineStyle: { color: AXC, width: 1 } },
    axisTick: { show: true, inside: true, length: 5, customValues: o.major, lineStyle: { color: AXC, width: 1 } },
    axisLabel: { show: true, customValues: o.major, formatter: v => Number(v).toFixed(o.dec), margin: o.margin, fontFamily: FONT, fontSize: 16, color: LBLC },
    name: o.name, nameLocation: 'middle', nameGap: o.nameGap, nameRotate: dir === 'y' ? 90 : 0,
    nameTextStyle: { fontFamily: FONT, fontSize: o.nameSize, color: '#333', rich: o.rich }
  }));
  list.push(Object.assign({}, base, { position: pos[1],
    axisLine: { show: true, onZero: false, lineStyle: { color: AXC, width: 1 } },
    axisTick: { show: true, inside: true, length: 5, customValues: o.major, lineStyle: { color: AXC, width: 1 } },
    axisLabel: { show: false } }));
  [pos[0], pos[1]].forEach(p => list.push(Object.assign({}, base, { position: p,
    axisLine: { show: false, onZero: false },
    axisTick: { show: true, inside: true, length: 2.5, customValues: o.minor, lineStyle: { color: AXC, width: 1 } },
    axisLabel: { show: false } })));
  return first;
}

const xMajor = timeTicks, xMinor = steps(-2 / 3, 14.7, 1 / 3);

panels.forEach((p, k) => {
  // main SFR panel
  const gm = grids.length;
  grids.push(Object.assign({}, p.main, { z: 0 }));
  const xm = addAxisSet(xAxes, gm, 'x', { min: -0.71, max: 14.8, major: xMajor, minor: xMinor, dec: 0, margin: 5, z: 3,
    name: 'Time [Gyr]', nameGap: 21, nameSize: 20 });
  const ym = addAxisSet(yAxes, gm, 'y', { min: p.my.min, max: p.my.max, major: p.my.major, minor: p.my.minor, dec: p.my.dec, margin: 4, z: 3 });
  p.sfr.forEach((d, j) => series.push({ type: 'line', name: seriesNames[j], xAxisIndex: xm, yAxisIndex: ym, data: d,
    symbol: 'none', z: 2, lineStyle: { color: COLORS[j], width: 1 }, itemStyle: { color: COLORS[j] }, animation: false, silent: true }));
  graphics.push({ type: 'text', x: p.sfrLbl[0], y: p.sfrLbl[1], rotation: Math.PI / 2, z: 30, style: {
    text: '{n|SFR [M}{s|⊙}{n|/yr]}', align: 'center', verticalAlign: 'middle',
    rich: { n: { fontFamily: FONT, fontSize: 20, fill: '#333' }, s: { fontFamily: FONT, fontSize: 14, fill: '#333', padding: [10, 0, 0, 0] } } } });

  // inset mass panel
  const gi = grids.length;
  grids.push(Object.assign({}, p.inset, { z: 10, show: true, backgroundColor: '#ffffff', borderWidth: 0 }));
  const xi = addAxisSet(xAxes, gi, 'x', { min: -0.71, max: 14.8, major: xMajor, minor: xMinor, dec: 0, margin: 4, z: 11,
    name: 'Time [Gyr]', nameGap: 22, nameSize: 16 });
  const yi = addAxisSet(yAxes, gi, 'y', { min: p.iy.min, max: p.iy.max, major: p.iy.major, minor: p.iy.minor, dec: p.iy.dec, margin: 3, z: 11,
    name: '{n|Mass [10}{p|6}{n| M}{s|⊙}{n|]}', nameGap: p.iy.gap, nameSize: 18,
    rich: { n: { fontFamily: FONT, fontSize: 18, color: '#333' }, p: { fontFamily: FONT, fontSize: 12, color: '#333', padding: [0, 0, 9, 0] }, s: { fontFamily: FONT, fontSize: 13, color: '#333', padding: [9, 0, 0, 0] } } });
  p.mass.forEach((d, j) => series.push({ type: 'line', name: seriesNames[j], xAxisIndex: xi, yAxisIndex: yi, data: d,
    step: p.step ? 'end' : false, symbol: 'none', z: 12, lineStyle: { color: COLORS[j], width: 1 }, itemStyle: { color: COLORS[j] }, animation: false, silent: true }));

  legends.push({ left: p.leg.left, top: p.leg.top, orient: 'vertical', selectedMode: false, z: 40,
    data: seriesNames.map((n, j) => ({ name: n, itemStyle: { color: COLORS[j] } })),
    icon: 'path://M0,0H18V1.6H0Z', itemWidth: 18, itemHeight: 12, itemGap: 4.7, padding: [4, 8, 6, 8],
    borderColor: '#4a4a4a', borderWidth: 1, backgroundColor: '#ffffff',
    formatter: n => n === 'CIMFS + t_ad,SNIa = 0' ? 'CIMFS + t{sub|ad,SNIa} = 0' : n,
    textStyle: { fontFamily: FONT, fontSize: 13, color: '#333', lineHeight: 12, padding: [0, 0, 0, 8],
      rich: { sub: { fontFamily: FONT, fontSize: 9, lineHeight: 12, color: '#333', padding: [5, 0, 0, 0] } } } });

  const c = captions[k];
  graphics.push({ type: 'text', x: p.cap[0], y: p.cap[1], z: 30, style: {
    text: '{n|' + c[0] + '}{i|' + c[1] + '}{s|' + c[2] + '}{n|' + c[3] + '}{i|' + c[4] + '}{s|' + c[5] + '}',
    align: 'center', verticalAlign: 'middle', fill: '#000',
    rich: { n: { fontFamily: FONT, fontSize: 19, fill: '#000' }, i: { fontFamily: FONT, fontSize: 19, fontStyle: 'italic', fill: '#000' },
      s: { fontFamily: FONT, fontSize: 12, fill: '#000', padding: [9, 0, 0, 0] } } } });
});

const chart = echarts.init(document.getElementById('c'), null, { renderer: 'canvas' });
chart.setOption({ animation: false, backgroundColor: '#ffffff', grid: grids, xAxis: xAxes, yAxis: yAxes, series, legend: legends, graphic: graphics });
</script></body></html>
